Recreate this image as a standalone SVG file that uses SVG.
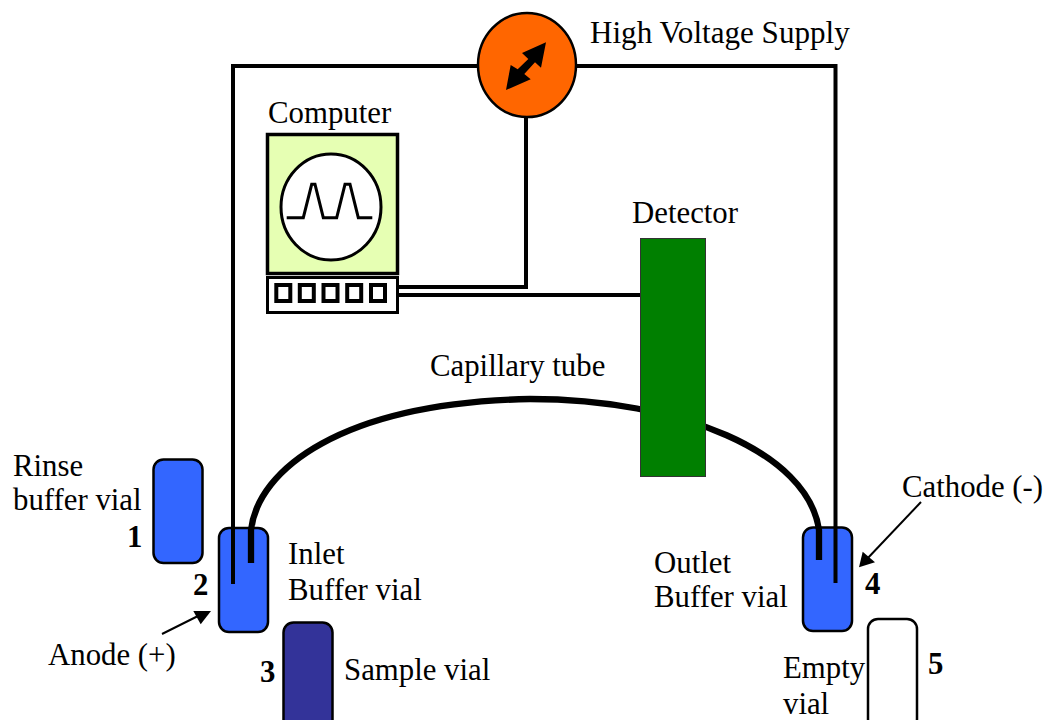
<svg xmlns="http://www.w3.org/2000/svg" width="1043" height="720" viewBox="0 0 1043 720">
<style>
text{font-family:"Liberation Serif","Times New Roman",serif;font-size:30.8px;fill:#000}
.b{font-weight:bold}
.vial{stroke:#000;stroke-width:2.5}
.w{fill:none;stroke:#000;stroke-width:4}
.cap{fill:none;stroke:#000;stroke-width:6.3}
</style>
<rect width="1043" height="720" fill="#fff"/>
<g id="vial1"><rect class="vial" x="153.500" y="459.500" width="49" height="103.500" rx="10" fill="#3366ff"/><text class="b" x="127" y="547">1</text></g>
<g id="vial2"><rect class="vial" x="219" y="528" width="49" height="104" rx="10" fill="#3366ff"/><text class="b" x="193" y="595">2</text></g>
<g id="vial3"><rect class="vial" x="283.500" y="622.500" width="49" height="110" rx="10" fill="#333399"/><text class="b" x="260" y="682">3</text></g>
<g id="vial4"><rect class="vial" x="803" y="527.500" width="49" height="103.500" rx="10" fill="#3366ff"/><text class="b" x="865" y="594">4</text></g>
<g id="vial5"><rect class="vial" x="868" y="619" width="49" height="110" rx="10" fill="#fff"/><text class="b" x="928" y="674">5</text></g>
<g id="connectors">
<path class="cap" d="M251 563V530C258 470 340 403 530 399C680 399 808 452 819 530V560"/>
<path class="w" d="M233 584V66H478M576 66H835.500V583"/>
<path class="w" d="M398 287H526V116M398 295H641"/>
<path d="M162 634L204 613" stroke="#000" stroke-width="2"/>
<polygon points="211,611 193.300,611 200.700,624.300" fill="#000"/>
<path d="M921 502L866 560" stroke="#000" stroke-width="2"/>
<polygon points="859,567.300 862.700,551.700 875,562.300" fill="#000"/>
</g>
<g id="supply"><ellipse cx="527" cy="65" rx="49" ry="52" fill="#ff6600" stroke="#000" stroke-width="2.500"/>
<polygon points="546,42.300 522,53 528.300,59 517.700,69.300 510.700,65 506,90 530.700,79.300 524.300,74 535,62.300 541,67.700" fill="#000"/>
<text x="590" y="43" style="font-size:31.1px">High Voltage Supply</text></g>
<g id="computer">
<rect x="267.500" y="134.500" width="130" height="139" fill="#e6ffb3" stroke="#000" stroke-width="3.500"/>
<ellipse cx="331" cy="207" rx="50" ry="53" fill="#fff" stroke="#000" stroke-width="3"/>
<path d="M286.700 217.700H303.300L311.700 184.300H315L323.300 217.700H336.700L345 184.300H350L358.300 217.700H372.300" fill="none" stroke="#000" stroke-width="3"/>
<rect x="267.500" y="277.500" width="130" height="35" fill="#fff" stroke="#000" stroke-width="3"/>
<g fill="none" stroke="#000" stroke-width="4"><rect x="276.300" y="285" width="14" height="16"/><rect x="299.800" y="285" width="14" height="16"/><rect x="323.500" y="285" width="14" height="16"/><rect x="347.200" y="285" width="14" height="16"/><rect x="371" y="285" width="14" height="16"/></g>
<text x="268" y="123">Computer</text></g>
<g id="detector"><rect x="640.500" y="238.500" width="65" height="238" fill="#007f00" stroke="#333"/><text x="632" y="223">Detector</text></g>
<text x="430" y="376">Capillary tube</text>
<text x="13" y="476">Rinse</text><text x="13" y="510">buffer vial</text>
<text x="288" y="564">Inlet</text><text x="288" y="600">Buffer vial</text>
<text x="48" y="665">Anode (+)</text>
<text x="344" y="680">Sample vial</text>
<text x="654" y="573">Outlet</text><text x="654" y="607">Buffer vial</text>
<text x="902" y="497">Cathode (-)</text>
<text x="783" y="678">Empty</text><text x="783" y="714">vial</text>
</svg>
